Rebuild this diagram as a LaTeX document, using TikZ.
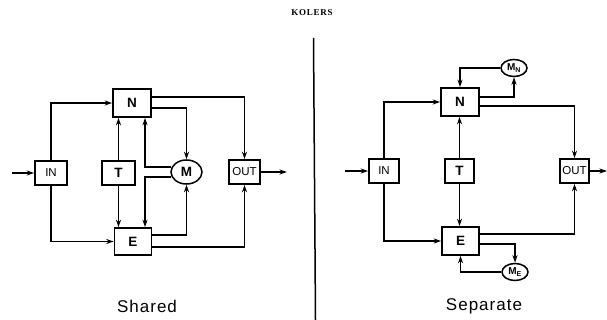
\documentclass[tikz,border=0pt]{standalone}
\usepackage{fontspec}
\setmainfont{Liberation Sans}
\newfontfamily\headfont{Liberation Serif}
\usetikzlibrary{arrows.meta,shapes.geometric,calc}
\tikzset{
  blk/.style={draw,line width=1.6pt,inner sep=0pt,minimum width=#1,minimum height=24pt},
  blk/.default=32pt,
  mem/.style={draw,ellipse,line width=1.5pt,inner sep=0pt},
  arr/.style={line width=1.4pt,-{Stealth[length=7.5pt,width=5pt]}},
  big/.style={font=\bfseries\fontsize{13.5}{15}\selectfont},
  small/.style={font=\fontsize{11.5}{13}\selectfont},
  captxt/.style={font=\fontsize{17}{20}\selectfont\addfontfeature{LetterSpace=6}},
}
\begin{document}
\begin{tikzpicture}[x=1pt,y=-1pt]
\useasboundingbox (0,0) rectangle (607,320);
\node[font=\headfont\bfseries\fontsize{9}{10}\selectfont\addfontfeature{LetterSpace=8}] (head) at (312,13) {KOLERS};
\draw[line width=1.5pt] (313.5,38) -- (315.5,320);
% ---------- Shared ----------
\node[blk=32pt,small] (IN) at (51,173) {IN};
\node[blk=38pt,minimum height=28pt,big] (N) at (132,103) {N};
\node[blk=33pt,big] (T) at (118.5,173) {T};
\node[mem,minimum width=31pt,minimum height=24pt,big] (M) at (186.5,172) {M};
\node[blk=31pt,small] (OUT) at (244.5,172) {OUT};
\node[blk=37pt,minimum height=27pt,big] (E) at (133,241.5) {E};
\coordinate (inL) at (12,173);
\coordinate (outL) at (287,172);
\coordinate (xa) at (145,0);
\draw[arr] (inL) -- (IN.west);
\draw[arr] (IN.north) |- (N.west);
\draw[arr] (IN.south) |- (E.west);
\draw[arr] (T.north) -- (T.north |- N.south);
\draw[arr] (T.south) -- (T.south |- E.north);
\draw[arr] (M.162) -| (N.south -| xa);
\draw[arr] (M.198) -| (E.north -| xa);
\draw[arr] ([yshift=6pt]N.east) -| (OUT.north);
\draw[arr] ([yshift=-5pt]N.east) -| (M.north);
\draw[arr] ([yshift=6.5pt]E.east) -| (M.south);
\draw[arr] ([yshift=-5.5pt]E.east) -| (OUT.south);
\draw[arr] (OUT.east) -- (outL);
\node[captxt] (capL) at (147,306) {Shared};
% ---------- Separate ----------
\node[blk=30pt,small] (IN2) at (384,171) {IN};
\node[blk=38pt,minimum height=28pt,big] (N2) at (460,102) {N};
\node[blk=29pt,big] (T2) at (459.5,171) {T};
\node[blk=37pt,minimum height=28pt,big] (E2) at (460.5,241) {E};
\node[blk=29pt,small] (OUT2) at (574.5,171) {OUT};
\node[mem,minimum width=26pt,minimum height=17pt,font=\bfseries\fontsize{10}{11}\selectfont] (MN) at (514,68) {M\textsubscript{N}};
\node[mem,minimum width=26pt,minimum height=17pt,font=\bfseries\fontsize{10}{11}\selectfont] (ME) at (515,272) {M\textsubscript{E}};
\coordinate (inR) at (345,171);
\coordinate (outR) at (607,171);
\draw[arr] (inR) -- (IN2.west);
\draw[arr] (IN2.north) |- (N2.west);
\draw[arr] (IN2.south) |- (E2.west);
\draw[arr] (T2.north) -- (T2.north |- N2.south);
\draw[arr] (T2.south) -- (T2.south |- E2.north);
\draw[arr] (MN.west) -| (N2.north);
\draw[arr] ([yshift=5pt]N2.east) -| (MN.south);
\draw[arr] ([yshift=-4pt]N2.east) -| (OUT2.north);
\draw[arr] ([yshift=7pt]E2.east) -| (OUT2.south);
\draw[arr] ([yshift=-3pt]E2.east) -| (ME.north);
\draw[arr] (ME.west) -| (E2.south);
\draw[arr] (OUT2.east) -- (outR);
\node[captxt] (capR) at (484,306) {Separate};
\end{tikzpicture}
\end{document}
